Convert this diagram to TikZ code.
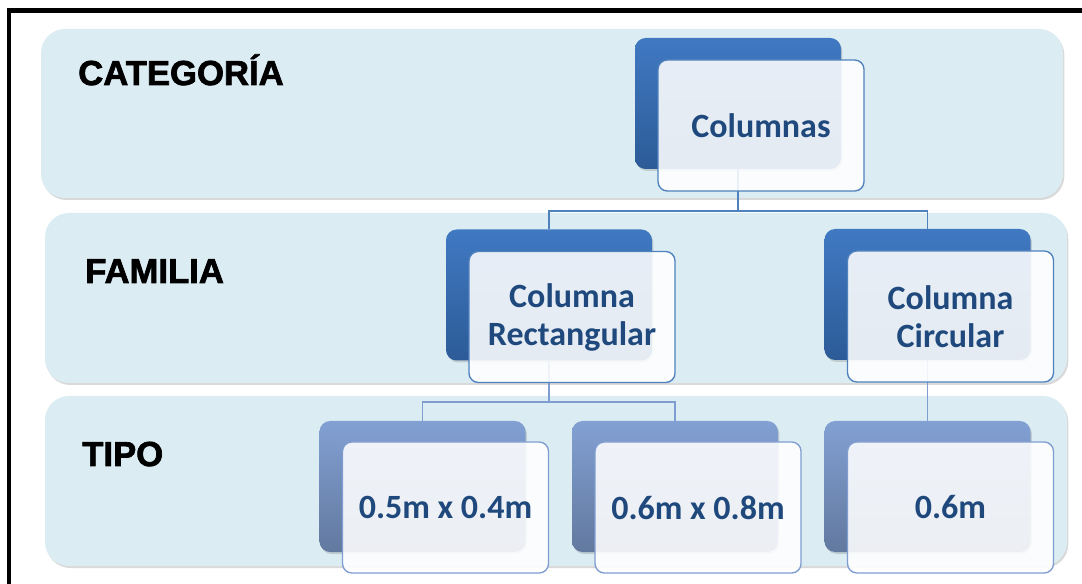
\documentclass[tikz,border=0pt]{standalone}
\usepackage{fontspec}
\setmainfont{Carlito}
\newfontfamily\lblfont{Liberation Sans}[BoldFeatures={FakeBold=2}]
\usepackage{tikz}
\usetikzlibrary{positioning, shadows, calc}

\definecolor{bandblue}{HTML}{DBEDF3}
\definecolor{darktop}{HTML}{4079C2}
\definecolor{darkbot}{HTML}{2C5B97}
\definecolor{litetop}{HTML}{82A0D3}
\definecolor{litebot}{HTML}{62799F}
\definecolor{edgeblue}{HTML}{4F81BD}
\definecolor{edgelite}{HTML}{7F9DD0}
\definecolor{txtblue}{HTML}{1F497D}

\tikzset{
  band/.style={fill=bandblue, rounded corners=18pt,
    drop shadow={shadow xshift=1pt, shadow yshift=-1.5pt, opacity=.3}},
  lvl/.style={font=\lblfont\bfseries\fontsize{26}{30}\selectfont, text=black, inner sep=0pt},
  backbox/.style={rectangle, rounded corners=8pt, minimum width=154.5pt, minimum height=98.25pt,
    top color=darktop, bottom color=darkbot,
    drop shadow={shadow xshift=1pt, shadow yshift=-1.5pt, opacity=.3}},
  litebox/.style={top color=litetop, bottom color=litebot},
  frontbox/.style={rectangle, rounded corners=7pt, minimum width=154.5pt, minimum height=98.25pt,
    draw=edgeblue, line width=1pt, fill=white, fill opacity=.88, text opacity=1,
    text=txtblue, align=center, font=\bfseries\fontsize{25.5}{28.5}\selectfont},
  frontlite/.style={draw=edgelite},
  conn/.style={draw=edgeblue, line width=1.1pt},
  connlite/.style={draw=edgelite, line width=1.1pt},
  frame/.style={line width=3.4pt, black}
}

\begin{document}
\begin{tikzpicture}[x=0.75pt, y=-0.75pt]
\useasboundingbox (0,0) rectangle (1082,584);

% Frame
\draw[frame] (9,584) -- (9,10.3) -- (1082,10.3);

% Bands
\fill[band] (41,29) rectangle (1063,198);
\fill[band] (45,213) rectangle (1067,383);
\fill[band] (45,396) rectangle (1067,566);

% Level labels
\node[lvl, anchor=base west] (catlbl) at (78,85) {CATEGORÍA};
\node[lvl, anchor=base west] (famlbl) at (85,283) {FAMILIA};
\node[lvl, anchor=base west] (tipolbl) at (82,466) {TIPO};

% Back boxes
\node[backbox] (colB) at (738,103.5) {};
\node[backbox] (rectB) at (549,295) {};
\node[backbox] (circB) at (927.5,294.5) {};
\node[backbox, litebox] (t1B) at (422.5,486.5) {};
\node[backbox, litebox] (t2B) at (675,486.5) {};
\node[backbox, litebox] (t3B) at (927.5,486.5) {};

% Connectors
\coordinate (bar1) at (0,211);
\coordinate (bar2) at (0,402);
\draw[conn] (colB.south) -- (colB.south |- bar1) -| (rectB.north);
\draw[conn] (colB.south |- bar1) -| (circB.north);
\draw[connlite] (rectB.south) -- (rectB.south |- bar2) -| (t1B.north);
\draw[connlite] (rectB.south |- bar2) -| (t2B.north);
\draw[connlite] (circB.south) -- (t3B.north);

% Front boxes
\node[frontbox] (colF) at ($(colB)+(23,22)$) {Columnas};
\node[frontbox] (rectF) at ($(rectB)+(23,22)$) {Columna\\Rectangular};
\node[frontbox] (circF) at ($(circB)+(23,22)$) {Columna\\Circular};
\node[frontbox, frontlite] (t1F) at ($(t1B)+(23,21)$) {0.5m x 0.4m};
\node[frontbox, frontlite] (t2F) at ($(t2B)+(23,21)$) {0.6m x 0.8m};
\node[frontbox, frontlite] (t3F) at ($(t3B)+(23,21)$) {0.6m};
\end{tikzpicture}
\end{document}
